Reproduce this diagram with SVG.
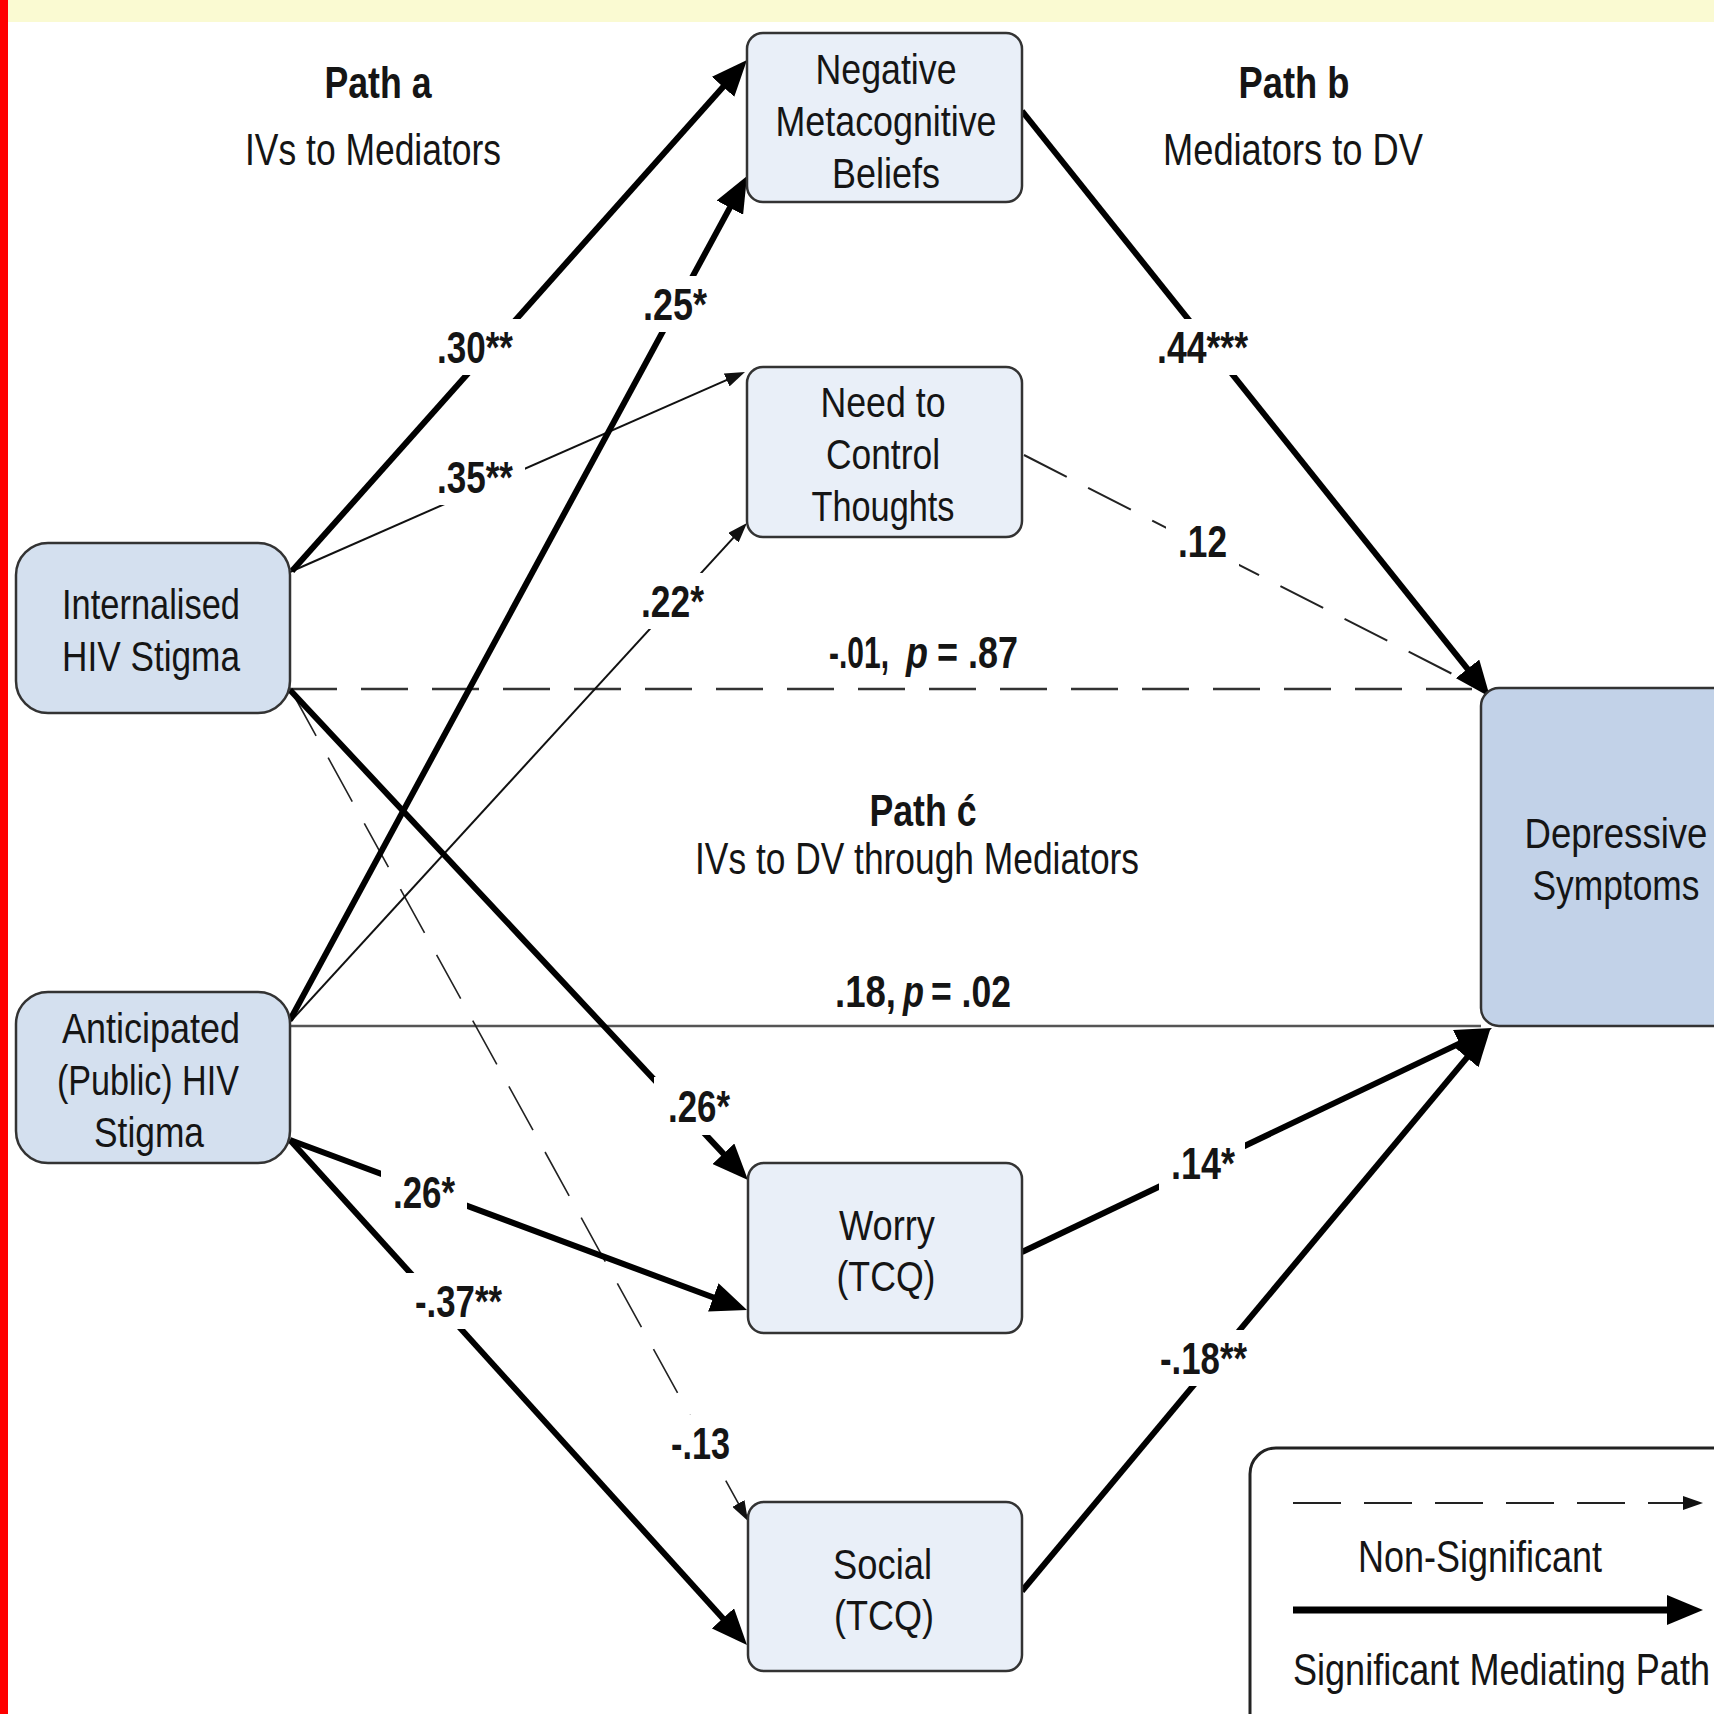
<svg xmlns="http://www.w3.org/2000/svg" width="1714" height="1714" viewBox="0 0 1714 1714">
<style>
text{font-family:"Liberation Sans",Arial,sans-serif;fill:#151515}
.nt{font-size:42px}
.hd{font-size:44px;font-weight:bold}
.sh{font-size:44px}
.lb{font-size:44px;font-weight:bold}
.it{font-style:italic}
.med{fill:#e9eff8;stroke:#333;stroke-width:2.5}
.iv{fill:#d4e0ef;stroke:#333;stroke-width:2.5}
.dv{fill:#c2d2e8;stroke:#333;stroke-width:2.5}
.thick{stroke:#000;stroke-width:6;fill:none;marker-end:url(#big)}
.thin{stroke:#111;stroke-width:2;fill:none;marker-end:url(#small)}
.dash{stroke:#333;stroke-width:2.5;fill:none;stroke-dasharray:47 24}
.gap{fill:#fff}
</style>
<defs>
<marker id="big" markerUnits="userSpaceOnUse" markerWidth="36" markerHeight="30" refX="16" refY="15" orient="auto"><path d="M0,0 L36,15 L0,30 Z" fill="#000"/></marker>
<marker id="small" markerUnits="userSpaceOnUse" markerWidth="20" markerHeight="14" refX="14" refY="7" orient="auto"><path d="M0,0 L20,7 L0,14 Z" fill="#111"/></marker>
</defs>
<rect x="0" y="0" width="1714" height="1714" fill="#fff"/>
<rect x="0" y="0" width="1714" height="22" fill="#fafad2"/>

<g id="connectors">
<line x1="290" y1="689" x2="1472" y2="689" class="dash"/>
<line x1="290" y1="1026" x2="1481" y2="1026" stroke="#555" stroke-width="2.5"/>
<line x1="1024" y1="455" x2="1470" y2="683" stroke="#222" stroke-width="2" stroke-dasharray="48 24"/>
<line x1="292" y1="692" x2="745.1" y2="1515.7" stroke="#222" stroke-width="1.6" stroke-dasharray="50 25" marker-end="url(#small)"/>
<line x1="290" y1="572" x2="739.5" y2="374.4" class="thin"/>
<line x1="290" y1="1022" x2="742.9" y2="527.4" class="thin"/>
<line x1="292" y1="571" x2="733.7" y2="74.9" class="thick"/>
<line x1="290" y1="690" x2="734.3" y2="1165.4" class="thick"/>
<line x1="290" y1="1020" x2="737.5" y2="193.6" class="thick"/>
<line x1="290" y1="1140" x2="728.3" y2="1303" class="thick"/>
<line x1="290" y1="1140" x2="733.6" y2="1630.2" class="thick"/>
<line x1="1022" y1="111" x2="1477.5" y2="681.4" class="thick"/>
<line x1="1022" y1="1252" x2="1473.9" y2="1036.6" class="thick"/>
<line x1="1022" y1="1591" x2="1477.2" y2="1045.4" class="thick"/>
</g>

<g id="labels">
<rect class="gap" x="427" y="319" width="96" height="56"/>
<text class="lb" x="437" y="363" textLength="76" lengthAdjust="spacingAndGlyphs">.30**</text>
<rect class="gap" x="429" y="451" width="96" height="54"/>
<text class="lb" x="437" y="493" textLength="76" lengthAdjust="spacingAndGlyphs">.35**</text>
<rect class="gap" x="633" y="276" width="84" height="56"/>
<text class="lb" x="643" y="320" textLength="64" lengthAdjust="spacingAndGlyphs">.25*</text>
<rect class="gap" x="631" y="573" width="83" height="56"/>
<text class="lb" x="641" y="617" textLength="63" lengthAdjust="spacingAndGlyphs">.22*</text>
<rect class="gap" x="1147" y="319" width="111" height="56"/>
<text class="lb" x="1157" y="363" textLength="91" lengthAdjust="spacingAndGlyphs">.44***</text>
<rect class="gap" x="1166" y="513" width="73" height="56"/>
<text class="lb" x="1178" y="557" textLength="49" lengthAdjust="spacingAndGlyphs">.12</text>
<text class="lb" transform="translate(829,668) scale(0.68,1)" x="0" y="0" textLength="88.2" lengthAdjust="spacingAndGlyphs">-.01,</text>
<text class="lb it" transform="translate(906,668) scale(0.82,1)" x="0" y="0" textLength="26.8" lengthAdjust="spacingAndGlyphs">p</text>
<text class="lb" transform="translate(937,668) scale(0.82,1)" x="0" y="0" textLength="98.8" lengthAdjust="spacingAndGlyphs">= .87</text>
<text class="lb" transform="translate(835,1007) scale(0.83,1)" x="0" y="0" textLength="73.5" lengthAdjust="spacingAndGlyphs">.18,</text>
<text class="lb it" transform="translate(903,1007) scale(0.78,1)" x="0" y="0" textLength="26.9" lengthAdjust="spacingAndGlyphs">p</text>
<text class="lb" transform="translate(931,1007) scale(0.81,1)" x="0" y="0" textLength="98.8" lengthAdjust="spacingAndGlyphs">= .02</text>
<rect class="gap" x="654" y="1077" width="88" height="58"/>
<text class="lb" x="668" y="1122" textLength="62" lengthAdjust="spacingAndGlyphs">.26*</text>
<rect class="gap" x="1159" y="1135" width="86" height="56"/>
<text class="lb" x="1171" y="1179" textLength="64" lengthAdjust="spacingAndGlyphs">.14*</text>
<rect class="gap" x="1150" y="1330" width="107" height="56"/>
<text class="lb" x="1160" y="1374" textLength="87" lengthAdjust="spacingAndGlyphs">-.18**</text>
<rect class="gap" x="381" y="1164" width="86" height="56"/>
<text class="lb" x="393" y="1208" textLength="62" lengthAdjust="spacingAndGlyphs">.26*</text>
<rect class="gap" x="405" y="1273" width="107" height="56"/>
<text class="lb" x="415" y="1317" textLength="87" lengthAdjust="spacingAndGlyphs">-.37**</text>
<rect class="gap" x="661" y="1415" width="79" height="56"/>
<text class="lb" x="671" y="1459" textLength="59" lengthAdjust="spacingAndGlyphs">-.13</text>
</g>

<g id="headers">
<text class="hd" x="324.5" y="98" textLength="107" lengthAdjust="spacingAndGlyphs">Path a</text>
<text class="sh" x="245" y="165" textLength="256" lengthAdjust="spacingAndGlyphs">IVs to Mediators</text>
<text class="hd" x="1238.5" y="98" textLength="111" lengthAdjust="spacingAndGlyphs">Path b</text>
<text class="sh" x="1163" y="165" textLength="260" lengthAdjust="spacingAndGlyphs">Mediators to DV</text>
<text class="hd" x="869.5" y="826" font-size="39" textLength="107" lengthAdjust="spacingAndGlyphs">Path ć</text>
<text class="sh" x="695" y="874" font-size="38" textLength="444" lengthAdjust="spacingAndGlyphs">IVs to DV through Mediators</text>
</g>

<g id="node-nmb">
<rect class="med" x="747" y="33" width="275" height="169" rx="16"/>
<text class="nt" x="815.5" y="84" textLength="141" lengthAdjust="spacingAndGlyphs">Negative</text>
<text class="nt" x="775.5" y="136" textLength="221" lengthAdjust="spacingAndGlyphs">Metacognitive</text>
<text class="nt" x="832" y="188" textLength="108" lengthAdjust="spacingAndGlyphs">Beliefs</text>
</g>
<g id="node-nct">
<rect class="med" x="747" y="367" width="275" height="170" rx="16"/>
<text class="nt" x="820.5" y="417" textLength="125" lengthAdjust="spacingAndGlyphs">Need to</text>
<text class="nt" x="826" y="469" textLength="114" lengthAdjust="spacingAndGlyphs">Control</text>
<text class="nt" x="811.5" y="521" textLength="143" lengthAdjust="spacingAndGlyphs">Thoughts</text>
</g>
<g id="node-ihs">
<rect class="iv" x="16" y="543" width="274" height="170" rx="32"/>
<text class="nt" x="62" y="619" textLength="178" lengthAdjust="spacingAndGlyphs">Internalised</text>
<text class="nt" x="62" y="671" textLength="178" lengthAdjust="spacingAndGlyphs">HIV Stigma</text>
</g>
<g id="node-aps">
<rect class="iv" x="16" y="992" width="274" height="171" rx="32"/>
<text class="nt" x="62" y="1043" textLength="178" lengthAdjust="spacingAndGlyphs">Anticipated</text>
<text class="nt" x="57" y="1095" textLength="182" lengthAdjust="spacingAndGlyphs">(Public) HIV</text>
<text class="nt" x="94" y="1147" textLength="110" lengthAdjust="spacingAndGlyphs">Stigma</text>
</g>
<g id="node-worry">
<rect class="med" x="748" y="1163" width="274" height="170" rx="16"/>
<text class="nt" x="839" y="1240" textLength="96" lengthAdjust="spacingAndGlyphs">Worry</text>
<text class="nt" x="836.5" y="1291" textLength="99" lengthAdjust="spacingAndGlyphs">(TCQ)</text>
</g>
<g id="node-social">
<rect class="med" x="748" y="1502" width="274" height="169" rx="16"/>
<text class="nt" x="833" y="1579" textLength="99" lengthAdjust="spacingAndGlyphs">Social</text>
<text class="nt" x="834" y="1630" textLength="100" lengthAdjust="spacingAndGlyphs">(TCQ)</text>
</g>
<g id="node-ds">
<rect class="dv" x="1481" y="688" width="280" height="338" rx="18"/>
<text class="nt" transform="translate(1524.5,848) scale(0.87,1)" x="0" y="0" textLength="210.3" lengthAdjust="spacingAndGlyphs">Depressive</text>
<text class="nt" transform="translate(1532.5,900) scale(0.843,1)" x="0" y="0" textLength="198.1" lengthAdjust="spacingAndGlyphs">Symptoms</text>
</g>

<g id="legend">
<rect x="1250" y="1448" width="520" height="320" rx="26" fill="#fff" stroke="#222" stroke-width="3"/>
<line x1="1293" y1="1503" x2="1697" y2="1503" stroke="#222" stroke-width="2" stroke-dasharray="48 23" marker-end="url(#small)"/>
<text class="sh" x="1358" y="1572" textLength="244" lengthAdjust="spacingAndGlyphs">Non-Significant</text>
<line x1="1293" y1="1610" x2="1683" y2="1610" stroke="#000" stroke-width="7" marker-end="url(#big)"/>
<text class="sh" transform="translate(1293,1685) scale(0.82,1)" x="0" y="0" textLength="508.5" lengthAdjust="spacingAndGlyphs">Significant Mediating Path</text>
</g>

<rect x="0" y="0" width="8" height="1714" fill="#ff0000"/>
</svg>
